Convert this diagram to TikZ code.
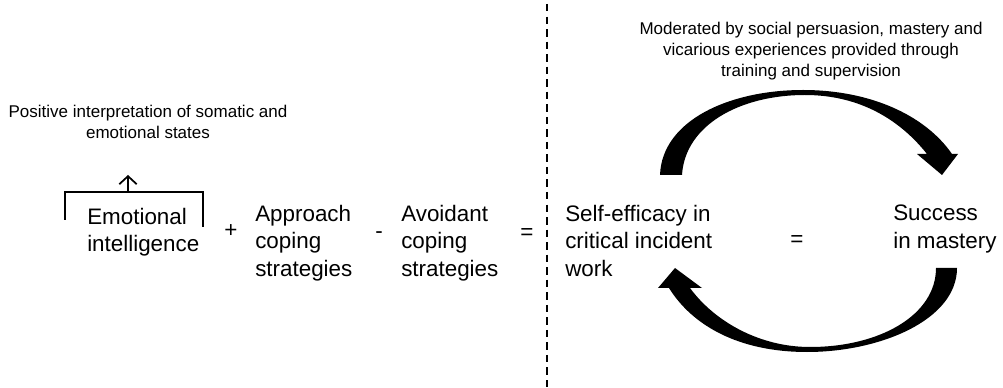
\documentclass[tikz,border=0pt]{standalone}
\usepackage{fontspec}
\setmainfont{Liberation Sans}
\usetikzlibrary{arrows.meta,positioning}

\begin{document}
\begin{tikzpicture}[x=0.75pt,y=-0.75pt,
  box/.style={font=\fontsize{16.8}{20.6}\selectfont, align=left, anchor=north west, inner sep=0pt},
  note/.style={font=\fontsize{12.75}{15.75}\selectfont, align=center, anchor=north, inner sep=0pt},
  op/.style={font=\fontsize{16.8}{20.6}\selectfont, anchor=base, inner sep=0pt},
  bracket/.style={line width=1.3pt},
  loop/.style={fill=black, draw=none}]
\useasboundingbox (0,0) rectangle (1003,388);

% left half: the equation
\node[note] (posint) at (148,105) {Positive interpretation of somatic and\\emotional states};
\node[box] (emo) at (87,208) {Emotional\\intelligence};
\node[op] (plus) at (231,238) {+};
\node[box] (appr) at (255,205) {Approach\\coping\\strategies};
\node[op] (minus) at (379,239) {-};
\node[box] (avoid) at (401,205) {Avoidant\\coping\\strategies};
\node[op] (eqleft) at (527,240) {=};

% bracket over emotional intelligence
\coordinate (brtop) at (128,192);
\coordinate (brtip) at (128,175);
\draw[bracket] (65,220) -- (65,192) -- (203,192) -- (203,227);
\draw[bracket, -{Straight Barb[length=6pt,width=13pt]}] (brtop) -- (brtip);

% divider
\draw[line width=1.5pt, dash pattern=on 5.6pt off 3.8pt] (547,4) -- (547,388);

% right half: the loop
\node[note] (moder) at (811,22) {Moderated by social persuasion, mastery and\\vicarious experiences provided through\\training and supervision};
\node[box] (selfeff) at (565,205) {Self-efficacy in\\critical incident\\work};
\node[op] (eqright) at (797,247) {=};
\node[box] (success) at (893,205) {Success\\in mastery};

% upper arrow
\fill[loop] (660,175) .. controls (662,120) and (730,90) .. (803,90)
  .. controls (870,90) and (925,115) .. (952,154) -- (958,154) -- (942,175) -- (917,154) -- (927,154)
  .. controls (900,120) and (860,95) .. (805,95)
  .. controls (740,95) and (685,125) .. (682,175) -- cycle;
% lower arrow
\fill[loop] (957,268) .. controls (957,320) and (880,352) .. (807,352)
  .. controls (738,352) and (692,325) .. (669,288) -- (658,288) -- (675,268) -- (702,288) -- (690,288)
  .. controls (715,322) and (760,347) .. (810,347)
  .. controls (880,347) and (936,315) .. (936,268) -- cycle;
\end{tikzpicture}
\end{document}
